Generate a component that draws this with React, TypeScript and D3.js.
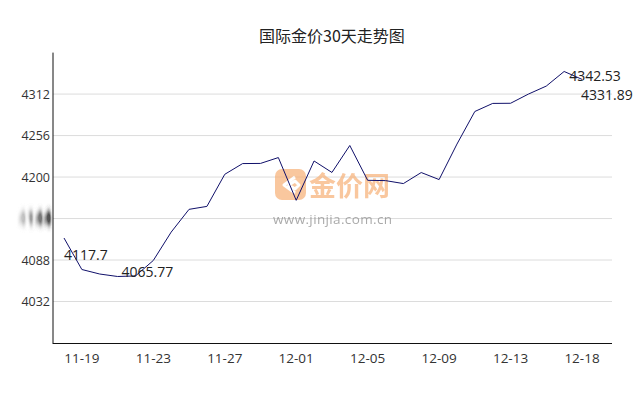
import React from "react";
import * as d3 from "d3";

const dates = [
  "11-18","11-19","11-20","11-21","11-22","11-23","11-24","11-25","11-26","11-27",
  "11-28","11-29","11-30","12-01","12-02","12-03","12-04","12-05","12-06","12-07",
  "12-08","12-09","12-10","12-11","12-12","12-13","12-15","12-16","12-17","12-18",
];
const prices = [
  4117.7, 4075.2, 4069.1, 4065.77, 4066.5, 4087.4, 4125.7, 4156.4, 4160.4, 4203.7,
  4218.2, 4218.4, 4226.3, 4168.6, 4221.7, 4206.2, 4242.6, 4195.6, 4195.2, 4191.2,
  4206.1, 4196.6, 4244.5, 4288.5, 4299.4, 4299.6, 4312.0, 4322.8, 4342.53, 4331.89,
];
const yTicks = [4032, 4088, 4144, 4200, 4256, 4312];
const xTickLabels = ["11-19", "11-23", "11-27", "12-01", "12-05", "12-09", "12-13", "12-18"];
const title = "国际金价30天走势图";

const W = 638;
const H = 399;
const plotLeft = 53;
const plotRight = 612;
const plotTop = 52.6;
const plotBottom = 343;

export default function App() {
  const idx = prices.map((_, i) => i);
  const x = d3.scalePoint<number>().domain(idx).range([64, 582]);
  const y = d3.scaleLinear().domain([3976, 4368]).range([plotBottom, plotTop]);
  const line = d3
    .line<number>()
    .x((_, i) => x(i) as number)
    .y((d) => y(d));

  const maxI = d3.maxIndex(prices);
  const minI = d3.minIndex(prices);
  const lastI = prices.length - 1;
  const labels = [
    { i: 0, dx: 0, dy: 21.5 },
    { i: minI, dx: 4, dy: 1 },
    { i: maxI, dx: 5, dy: 10 },
    { i: lastI, dx: -1, dy: 21 },
  ];
  const font = "'Open Sans', 'Noto Sans', 'Noto Sans CJK SC', sans-serif";

  return (
    <svg
      width={W}
      height={H}
      style={{ position: "fixed", left: 0, top: 0, background: "#fff" }}
      fontFamily={font}
    >
      <defs>
        <filter id="mosaic" x="-30%" y="-80%" width="160%" height="260%">
          <feGaussianBlur stdDeviation="0.9 4.5" />
          <feComponentTransfer>
            <feFuncA type="linear" slope="2.2" />
          </feComponentTransfer>
        </filter>
        <linearGradient id="fadeL" x1="0" x2="1" y1="0" y2="0">
          <stop offset="0" stopColor="#d8d8d8" />
          <stop offset="1" stopColor="#444" />
        </linearGradient>
      </defs>
      <rect x={0} y={0} width={W} height={H} fill="#fff" />
      <text x={332} y={42} textAnchor="middle" fontSize={16} fill="#222"
        fontFamily="'Noto Sans CJK SC', sans-serif">
        {title}
      </text>

      {yTicks.map((t) => (
        <line key={t} x1={plotLeft} x2={plotRight} y1={y(t)} y2={y(t)} stroke="#dcdcdc" strokeWidth={1} />
      ))}
      {yTicks.map((t) =>
        t === 4144 ? (
          <text key={t} x={52} y={y(t) + 4.5} textAnchor="end" fontSize={14} fill="url(#fadeL)"
            filter="url(#mosaic)" fontWeight="bold" letterSpacing={0.5}>
            {t}
          </text>
        ) : (
          <text key={t} x={50} y={y(t) + 4.5} textAnchor="end" fontSize={12.5} fill="#333">
            {t}
          </text>
        )
      )}

      <g opacity={0.72}>
        <rect x={275} y={169} width={31} height={31} rx={7} fill="#f7b27a" />
        <path d="M295 177 L284 185 L295 193 M289 185 L295 181 L299 185 L295 189 Z" fill="none" stroke="#fff" strokeWidth={3} strokeLinejoin="round" />
        <text x={309} y={196} fontSize={27} fontWeight="bold" fill="#f7b27a"
          fontFamily="'Noto Sans CJK SC', sans-serif">
          金价网
        </text>
        <text x={273} y={224} fontSize={13.5} fill="#8a8a8a" textLength={119}>
          www.jinjia.com.cn
        </text>
      </g>

      <line x1={plotLeft} x2={plotLeft} y1={plotTop} y2={plotBottom + 1} stroke="#111" strokeWidth={1} />
      <line x1={plotLeft} x2={plotRight} y1={plotBottom + 0.5} y2={plotBottom + 0.5} stroke="#111" strokeWidth={1} />
      {xTickLabels.map((lab) => {
        const i = dates.indexOf(lab);
        return (
          <text key={lab} x={x(i) as number} y={363} textAnchor="middle" fontSize={13.5} fill="#333">
            {lab}
          </text>
        );
      })}

      <path d={line(prices) || ""} fill="none" stroke="#10106a" strokeWidth={1} />

      {labels.map((l) => (
        <text key={l.i} x={(x(l.i) as number) + l.dx} y={y(prices[l.i]) + l.dy} fontSize={14} fill="#222">
          {prices[l.i]}
        </text>
      ))}
    </svg>
  );
}
